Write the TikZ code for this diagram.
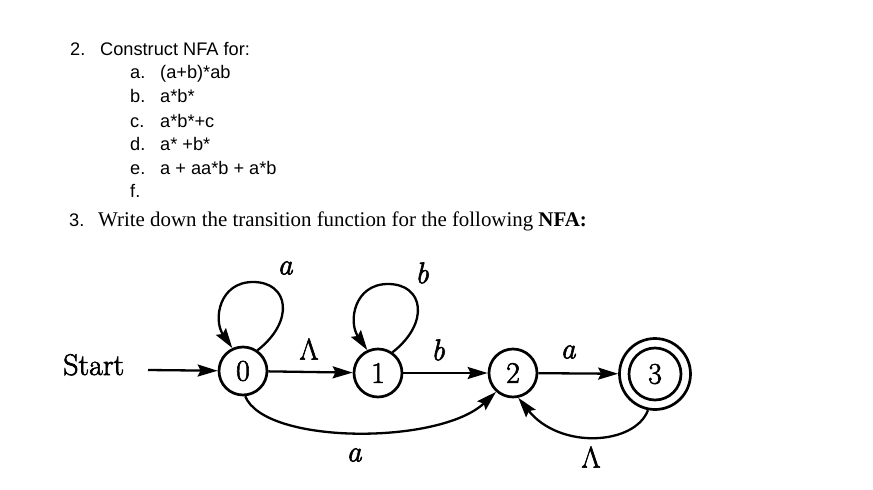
\RequirePackage{fix-cm}
\documentclass[tikz,border=0pt]{standalone}
\usepackage{fontspec}
\newfontfamily\arialf{Liberation Sans}
\newfontfamily\timesf{Liberation Serif}
\newfontfamily\lmfb[FakeBold=2]{Latin Modern Roman}
\usetikzlibrary{arrows.meta,calc}
\newcommand\diagf{\lmfb\fontsize{30}{36}\selectfont}
\newcommand\listf{\arialf\fontsize{18.2}{22}\selectfont}
\newcommand\serf{\timesf\fontsize{20.9}{24}\selectfont}
\begin{document}
\begin{tikzpicture}[x=1pt,y=-1pt,
  state/.style={circle,draw,line width=2.7pt,minimum size=48pt,inner sep=0pt,font=\diagf},
  arr/.style={line width=2.3pt,-{Stealth[length=20pt,width=12pt,inset=3pt]}},
  lbl/.style={inner sep=0pt,font=\diagf},
  txt/.style={anchor=base west,inner sep=0pt,font=\listf},
  stxt/.style={anchor=base west,inner sep=0pt,font=\serf}]
\useasboundingbox (0,0) rectangle (873,490);
% list
\node[txt] (q2) at (70,55) {2.};
\node[txt] (q2t) at (100,55) {Construct NFA for:};
\node[txt] (la) at (130,78) {a.};
\node[txt] (lat) at (160,78) {(a+b)*ab};
\node[txt] (lb) at (130,102) {b.};
\node[txt] (lbt) at (160,102) {a*b*};
\node[txt] (lc) at (130,127) {c.};
\node[txt] (lct) at (160,127) {a*b*+c};
\node[txt] (ld) at (130,150) {d.};
\node[txt] (ldt) at (160,150) {a* +b*};
\node[txt] (le) at (130,174) {e.};
\node[txt] (let) at (160,174) {a + aa*b + a*b};
\node[txt] (lf) at (130,197) {f.};
\node[txt] (q3) at (69,226) {3.};
\node[stxt] (q3t) at (98,226) {Write down the transition function for the following \textbf{NFA:}};
% automaton
\node[state] (n0) at (243,371) {0};
\node[state] (n1) at (378,373) {1};
\node[state] (n2) at (513,373) {2};
\node[state,minimum size=52pt] (n3) at (655,374) {3};
\node[circle,draw,line width=2.7pt,minimum size=71pt,inner sep=0pt] (n3o) at (655,374) {};
\node[anchor=base west,inner sep=0pt,font=\diagf] (start) at (63,375) {Start};
\coordinate (s0) at (148,370);
\draw[arr] (s0) -- (n0);
\draw[arr] (n0) -- (n1);
\draw[arr] (n1) -- (n2);
\draw[arr] (n2) -- (n3o);
\draw[arr] (n0.55) .. controls ($(n0)+(52,-50)$) and ($(n0)+(46,-89)$) .. ($(n0)+(10,-89)$)
  .. controls ($(n0)+(-24,-89)$) and ($(n0)+(-30,-51)$) .. (n0.115);
\draw[arr] (n1.55) .. controls ($(n1)+(52,-50)$) and ($(n1)+(46,-89)$) .. ($(n1)+(10,-89)$)
  .. controls ($(n1)+(-24,-89)$) and ($(n1)+(-30,-51)$) .. (n1.115);
\draw[arr] (n0.275) .. controls (265,445) and (440,445) .. (n2.228);
\draw[arr] (n3o.259) .. controls (635,445) and (560,450) .. (n2.282);
% labels
\node[lbl] (l01) at (309,349) {Λ};
\node[lbl] (l12) at (438,350) {\itshape b};
\node[lbl] (l23) at (568,352) {\itshape a};
\node[lbl] (l00) at (285,268) {\itshape a};
\node[lbl] (l11) at (422,273) {\itshape b};
\node[lbl] (l02) at (354,455) {\itshape a};
\node[lbl] (l32) at (591,457) {Λ};
\end{tikzpicture}
\end{document}
